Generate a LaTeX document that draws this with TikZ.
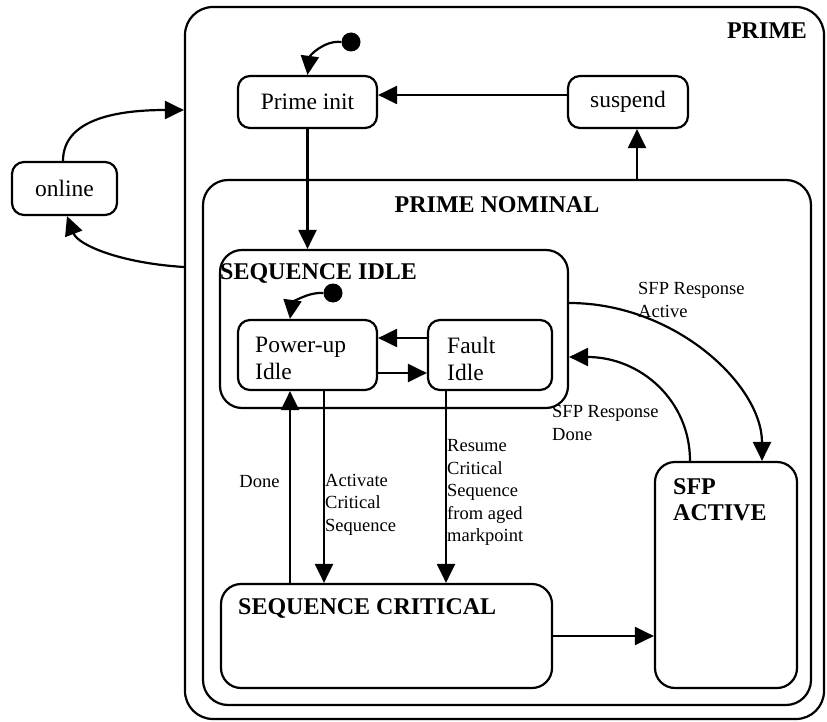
\documentclass[tikz,border=0pt]{standalone}
\usepackage{fontspec}
\setmainfont{Liberation Serif}
\usetikzlibrary{arrows.meta,calc}
\begin{document}
\begin{tikzpicture}[x=1pt,y=-1pt,
  box/.style={draw,line width=2.2pt,rounded corners=#1,inner sep=0pt},
  box/.default=12pt,
  arr/.style={line width=2.2pt,-{Triangle[length=19pt,width=18pt]}},
  nt/.style={font=\fontsize{23.5}{27}\selectfont,inner sep=0pt,align=left},
  hd/.style={font=\fontsize{24}{26}\selectfont\bfseries,inner sep=0pt,align=left},
  lb/.style={font=\fontsize{18.5}{22.5}\selectfont,inner sep=0pt,align=left},
  dot/.style={circle,fill,inner sep=0pt,minimum size=19pt},
]
\useasboundingbox (0,0) rectangle (827,722);
\fill[white] (0,0) rectangle (827,722);

% containers
\node[box=28pt,minimum width=639pt,minimum height=712pt] (prime) at (504.5,363) {};
\node[box=25pt,minimum width=608pt,minimum height=525pt] (pn) at (507,442.5) {};
\node[box=22pt,minimum width=348pt,minimum height=158pt] (si) at (394,329) {};
\node[box=20pt,minimum width=331pt,minimum height=104pt] (sc) at (386.5,636) {};
\node[box=20pt,minimum width=142pt,minimum height=226pt] (sfp) at (726,575) {};

% states
\node[box,nt,minimum width=139pt,minimum height=52pt] (pinit) at (307.5,102) {Prime init};
\node[box,nt,minimum width=120pt,minimum height=52pt] (susp) at (628,102) {suspend};
\node[box,nt,minimum width=105pt,minimum height=53pt] (on) at (64.5,188.5) {online};
\node[box,minimum width=139pt,minimum height=70pt] (pu) at (307.5,355) {};
\node[box,minimum width=124pt,minimum height=70pt] (fi) at (490,355) {};

% titles and texts
\node[hd] (tprime) at (767,31) {PRIME};
\node[hd] (tpn) at (497,205) {PRIME NOMINAL};
\node[hd,anchor=west] (tsi) at (220,273) {SEQUENCE IDLE};
\node[hd,anchor=west] (tsc) at (238,608) {SEQUENCE CRITICAL};
\node[hd,anchor=west] (tsfp) at (673,500) {SFP\\ACTIVE};
\node[nt,anchor=west] (tpu) at (255,358.5) {Power-up\\Idle};
\node[nt,anchor=west] (tfi) at (447,358.5) {Fault\\Idle};

% labels
\node[lb] (ldone) at (259.5,482) {Done};
\node[lb,anchor=west] (lact) at (325,504.5) {Activate\\Critical\\Sequence};
\node[lb,anchor=west] (lres) at (447,492.5) {Resume\\Critical\\Sequence\\from aged\\markpoint};
\node[lb,anchor=west] (lsra) at (638,300) {SFP Response\\Active};
\node[lb,anchor=west] (lsrd) at (552,423) {SFP Response\\Done};

% initial pseudo-states
\node[dot] (d1) at (351,42) {};
\node[dot] (d2) at (333,293) {};

% helper coordinates
\coordinate (xs) at (637,0);
\coordinate (y1) at (0,338);
\coordinate (y2) at (0,373);
\coordinate (xdone) at (290,0);
\coordinate (xact) at (324,0);
\coordinate (xres) at (446,0);
\coordinate (ya) at (0,303);
\coordinate (xa) at (762,0);
\coordinate (xd) at (690,0);
\coordinate (yd) at (0,357);
\coordinate (yo) at (0,110);
\coordinate (yp) at (0,267);
\coordinate (xi) at (290,0);
\coordinate (xon1) at (63,0);
\coordinate (xon2) at (67,0);

% connectors
\draw[arr] (d1.west) .. controls (325,40) and (310,55) .. (pinit.north);
\draw[arr] (d2.west) .. controls (306,292) and (292,304) .. (xi |- pu.north);
\draw[arr] (susp.west |- 0,95) -- (pinit.east |- 0,95);
\draw[arr] (xs |- pn.north) -- (xs |- susp.south);
\draw[arr] (pinit.south) -- (pinit.south |- si.north);
\draw[arr] (fi.west |- y1) -- (pu.east |- y1);
\draw[arr] (pu.east |- y2) -- (fi.west |- y2);
\draw[arr] (xdone |- sc.north) -- (xdone |- pu.south);
\draw[arr] (xact |- pu.south) -- (xact |- sc.north);
\draw[arr] (xres |- fi.south) -- (xres |- sc.north);
\draw[arr] (sc.east) -- (sc.east -| sfp.west);
\draw[arr] (si.east |- ya) .. controls (675,303) and (762,385) .. (xa |- sfp.north);
\draw[arr] (xd |- sfp.north) .. controls (690,400) and (640,357) .. (si.east |- yd);
\draw[arr] (xon1 |- on.north) .. controls (63,118) and (120,110) .. (prime.west |- yo);
\draw[arr] (prime.west |- yp) .. controls (120,263) and (78,245) .. (xon2 |- on.south);
\end{tikzpicture}
\end{document}
